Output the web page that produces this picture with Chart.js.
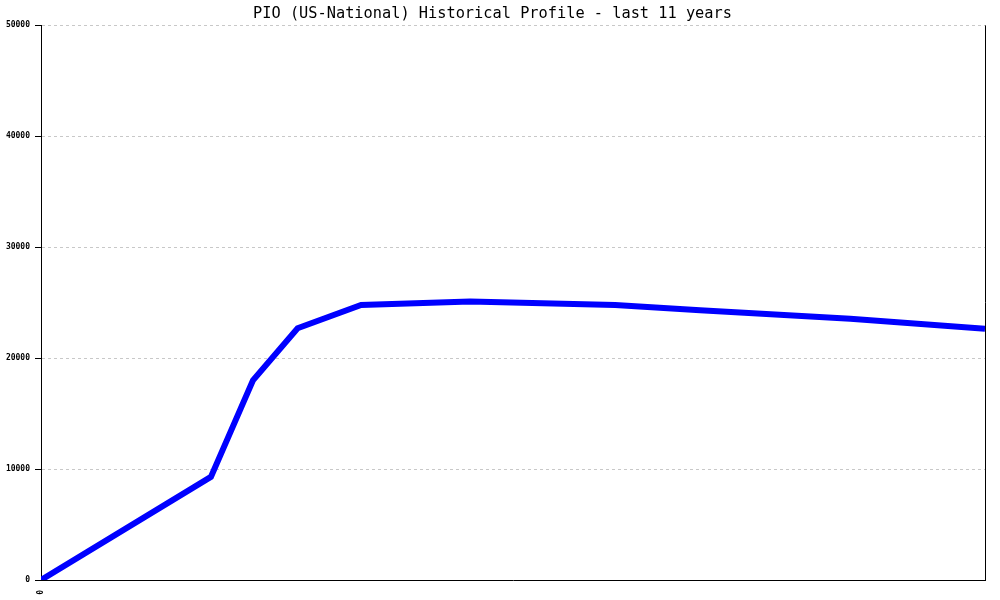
<!DOCTYPE html>
<html>
<head>
<meta charset="utf-8">
<script src="https://cdn.jsdelivr.net/npm/chart.js@4"></script>
<style>
  html, body { margin: 0; padding: 0; background: #fff; }
  #wrap { width: 1000px; height: 600px; position: relative; }
</style>
</head>
<body>
<div id="wrap"><canvas id="c" width="1000" height="600"></canvas></div>
<script>
// Data
const titleText = "PIO (US-National) Historical Profile - last 11 years";
const yearsElapsed = [0, 1.98, 2.47, 2.99, 3.73, 5.0, 6.69, 7.68, 9.43, 11];
const enrollment  = [0, 9300, 18000, 22700, 24800, 25100, 24800, 24320, 23550, 22650];
const yTicks = [0, 10000, 20000, 30000, 40000, 50000];
const xTickLabels = [0];

const points = yearsElapsed.map((x, i) => ({ x: x, y: enrollment[i] }));

const rightBorder = {
  id: 'rightBorder',
  afterDraw(chart) {
    const { ctx, chartArea } = chart;
    ctx.save();
    ctx.strokeStyle = '#000';
    ctx.lineWidth = 1;
    ctx.beginPath();
    ctx.moveTo(Math.round(chartArea.right) + 0.5, chartArea.top);
    ctx.lineTo(Math.round(chartArea.right) + 0.5, chartArea.bottom);
    ctx.stroke();
    ctx.restore();
  }
};

new Chart(document.getElementById('c'), {
  type: 'line',
  data: {
    datasets: [{
      data: points,
      borderColor: '#0000ff',
      borderWidth: 6,
      pointRadius: 0,
      tension: 0,
      fill: false
    }]
  },
  options: {
    responsive: false,
    animation: false,
    devicePixelRatio: 1,
    layout: { padding: { left: 0, right: 15, top: 0, bottom: 0 } },
    plugins: {
      legend: { display: false },
      tooltip: { enabled: false },
      title: {
        display: true,
        text: titleText,
        color: '#000',
        font: { family: 'DejaVu Sans Mono', size: 15.3, weight: 'normal', lineHeight: 1.2 },
        padding: { top: 5, bottom: 2 }
      }
    },
    scales: {
      x: {
        type: 'linear',
        min: 0,
        max: 11,
        afterBuildTicks(scale) { scale.ticks = xTickLabels.map(v => ({ value: v })); },
        afterFit(scale) { scale.height = 20; },
        grid: { display: false, drawTicks: false },
        border: { display: true, color: '#000', width: 1 },
        ticks: {
          color: '#000',
          minRotation: 90,
          maxRotation: 90,
          padding: 10,
          font: { family: 'DejaVu Sans Mono', size: 8, weight: 'bold' },
          callback: v => String(v)
        }
      },
      y: {
        min: 0,
        max: 50000,
        afterBuildTicks(scale) { scale.ticks = yTicks.map(v => ({ value: v })); },
        afterFit(scale) { scale.width = 41; },
        grid: {
          color: '#c8c8c8',
          lineWidth: 1,
          tickColor: '#000',
          tickLength: 6,
          drawTicks: true
        },
        border: { display: true, color: '#000', width: 1, dash: [3, 3] },
        ticks: {
          color: '#000',
          padding: 5,
          font: { family: 'DejaVu Sans Mono', size: 8, weight: 'bold' },
          callback: v => String(v)
        }
      }
    }
  },
  plugins: [rightBorder]
});
</script>
</body>
</html>
